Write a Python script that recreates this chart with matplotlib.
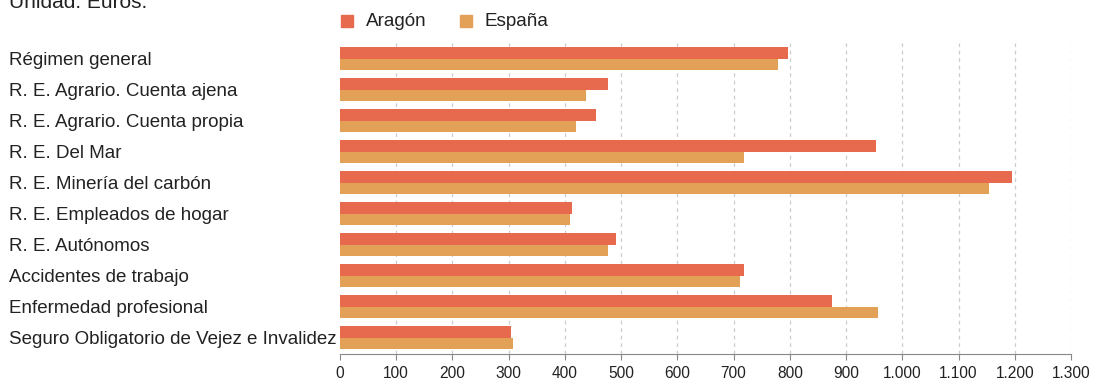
import numpy as np
import matplotlib.pyplot as plt
from matplotlib.patches import Rectangle
from matplotlib.ticker import FuncFormatter

plt.rcParams['font.family'] = ['Liberation Sans', 'DejaVu Sans']

# ---------------------------------------
# Data
# ---------------------------------------
categories = [
    "Régimen general",
    "R. E. Agrario. Cuenta ajena",
    "R. E. Agrario. Cuenta propia",
    "R. E. Del Mar",
    "R. E. Minería del carbón",
    "R. E. Empleados de hogar",
    "R. E. Autónomos",
    "Accidentes de trabajo",
    "Enfermedad profesional",
    "Seguro Obligatorio de Vejez e Invalidez",
]
aragon = [797, 477, 455, 953, 1195, 413, 491, 718, 875, 304]
espana = [779, 437, 420, 718, 1154, 409, 477, 711, 957, 308]
series = ["Aragón", "España"]
xticks = list(range(0, 1301, 100))

colors = ["#e76a4e", "#e3a157"]
txt = "#222222"
W, H = 1093, 383

# ---------------------------------------
# Plot
# ---------------------------------------
fig = plt.figure(figsize=(W / 100, H / 100), dpi=100)
ax = fig.add_axes([340 / W, 1 - 353.5 / H, 731 / W, 310.5 / H])

y = np.arange(len(categories))
h = 0.37
ax.barh(y - h / 2, aragon, height=h, color=colors[0], zorder=3)
ax.barh(y + h / 2, espana, height=h, color=colors[1], zorder=3)

ax.set_xlim(0, 1300)
ax.set_ylim(len(categories) - 0.5, -0.5)
ax.set_xticks(xticks)
ax.xaxis.set_major_formatter(FuncFormatter(lambda v, p: f"{int(v):,}".replace(",", ".")))
ax.tick_params(axis="x", length=4, color="#888888", labelsize=11.2, labelcolor=txt, pad=5)
ax.set_yticks([])

for s in ["top", "right", "left"]:
    ax.spines[s].set_visible(False)
ax.spines["bottom"].set_color("#888888")

for v in xticks[1:]:
    ax.axvline(v, color="#cccccc", lw=0.9, ls=(0, (3, 3)), zorder=1)

# category labels, left aligned (baseline placed so caps centre on the row)
row_px = 310.5 / len(categories)
for i, c in enumerate(categories):
    yc = 43 + row_px * (i + 0.5)
    fig.text(9 / W, 1 - (yc + 6.3) / H, c, ha="left", va="baseline",
             fontsize=13.5, color=txt)

fig.text(9 / W, 1 - 8.5 / H, "Unidad: Euros.", ha="left", va="baseline",
         fontsize=15, color=txt)

# legend
leg_x = [341, 460]
for x0, name, col in zip(leg_x, series, colors):
    fig.patches.append(Rectangle((x0 / W, 1 - 26.5 / H), 11.5 / W, 11.5 / H,
                                 transform=fig.transFigure, color=col))
    fig.text((x0 + 25) / W, 1 - 26 / H, name, ha="left", va="baseline",
             fontsize=13.6, color=txt)

fig.savefig("out.png", dpi=100)
